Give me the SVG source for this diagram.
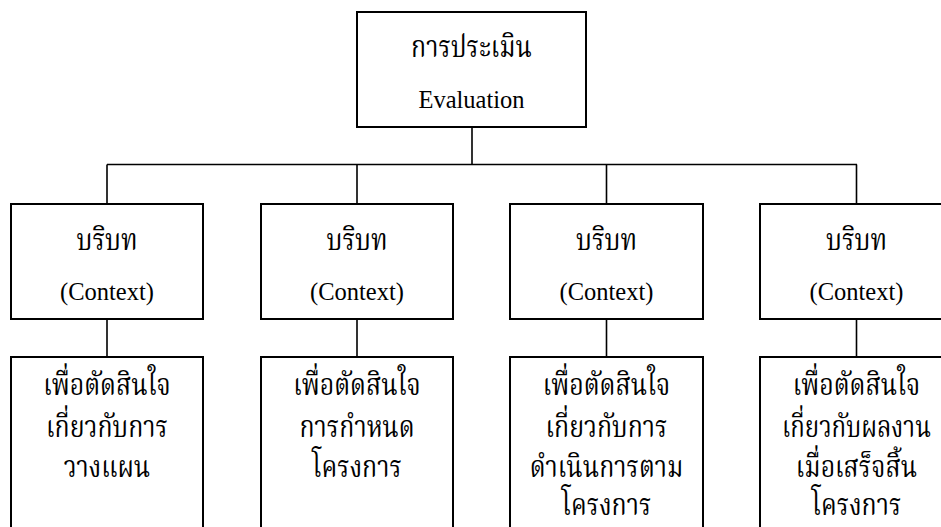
<svg xmlns="http://www.w3.org/2000/svg" width="941" height="527" viewBox="0 0 941 527">
<style>
.box{fill:#fff;stroke:#000;stroke-width:2}
.ln{fill:none;stroke:#000;stroke-width:1.6}
.th{font-family:"Liberation Serif","Noto Serif Thai","Noto Sans Thai",serif;font-size:30px;text-anchor:middle;fill:#000}
.en{font-family:"Liberation Serif",serif;font-size:24.5px;text-anchor:middle;fill:#000}
</style>
<rect width="941" height="527" fill="#fff"/>
<g id="connectors">
<path class="ln" d="M472 127V164.5M107 164.5H857M107 164.5V204M357 164.5V204M606.5 164.5V204M856.5 164.5V204"/>
<path class="ln" d="M107 319V357M357 319V357M606.5 319V357M856.5 319V357"/>
</g>
<g id="evaluation">
<rect class="box" x="357" y="12" width="229" height="115"/>
<text class="th" transform="translate(471.5 57) scale(0.83 1)">การประเมิน</text>
<text class="en" x="471.5" y="108">Evaluation</text>
</g>
<g id="context1">
<rect class="box" x="11" y="204" width="192" height="115"/>
<text class="th" transform="translate(107 250) scale(0.85 1)">บริบท</text>
<text class="en" x="107" y="300">(Context)</text>
</g>
<g id="context2">
<rect class="box" x="261" y="204" width="192" height="115"/>
<text class="th" transform="translate(357 250) scale(0.85 1)">บริบท</text>
<text class="en" x="357" y="300">(Context)</text>
</g>
<g id="context3">
<rect class="box" x="510" y="204" width="193" height="115"/>
<text class="th" transform="translate(606.5 250) scale(0.85 1)">บริบท</text>
<text class="en" x="606.5" y="300">(Context)</text>
</g>
<g id="context4">
<rect class="box" x="760" y="204" width="193" height="115"/>
<text class="th" transform="translate(856.5 250) scale(0.85 1)">บริบท</text>
<text class="en" x="856.5" y="300">(Context)</text>
</g>
<g id="decision1">
<rect class="box" x="11" y="357" width="192" height="190"/>
<text class="th" transform="translate(107 395) scale(0.83 1)">เพื่อตัดสินใจ</text>
<text class="th" transform="translate(107 437) scale(0.83 1)">เกี่ยวกับการ</text>
<text class="th" transform="translate(107 477) scale(0.83 1)">วางแผน</text>
</g>
<g id="decision2">
<rect class="box" x="261" y="357" width="192" height="190"/>
<text class="th" transform="translate(357 395) scale(0.83 1)">เพื่อตัดสินใจ</text>
<text class="th" transform="translate(357 437) scale(0.83 1)">การกำหนด</text>
<text class="th" transform="translate(357 477) scale(0.83 1)">โครงการ</text>
</g>
<g id="decision3">
<rect class="box" x="510" y="357" width="193" height="190"/>
<text class="th" transform="translate(606.5 395) scale(0.83 1)">เพื่อตัดสินใจ</text>
<text class="th" transform="translate(606.5 437) scale(0.83 1)">เกี่ยวกับการ</text>
<text class="th" transform="translate(606.5 477) scale(0.83 1)">ดำเนินการตาม</text>
<text class="th" transform="translate(606.5 515) scale(0.83 1)">โครงการ</text>
</g>
<g id="decision4">
<rect class="box" x="760" y="357" width="193" height="190"/>
<text class="th" transform="translate(856.5 395) scale(0.83 1)">เพื่อตัดสินใจ</text>
<text class="th" transform="translate(856.5 437) scale(0.8 1)">เกี่ยวกับผลงาน</text>
<text class="th" transform="translate(856.5 477) scale(0.83 1)">เมื่อเสร็จสิ้น</text>
<text class="th" transform="translate(856.5 515) scale(0.83 1)">โครงการ</text>
</g>
</svg>
